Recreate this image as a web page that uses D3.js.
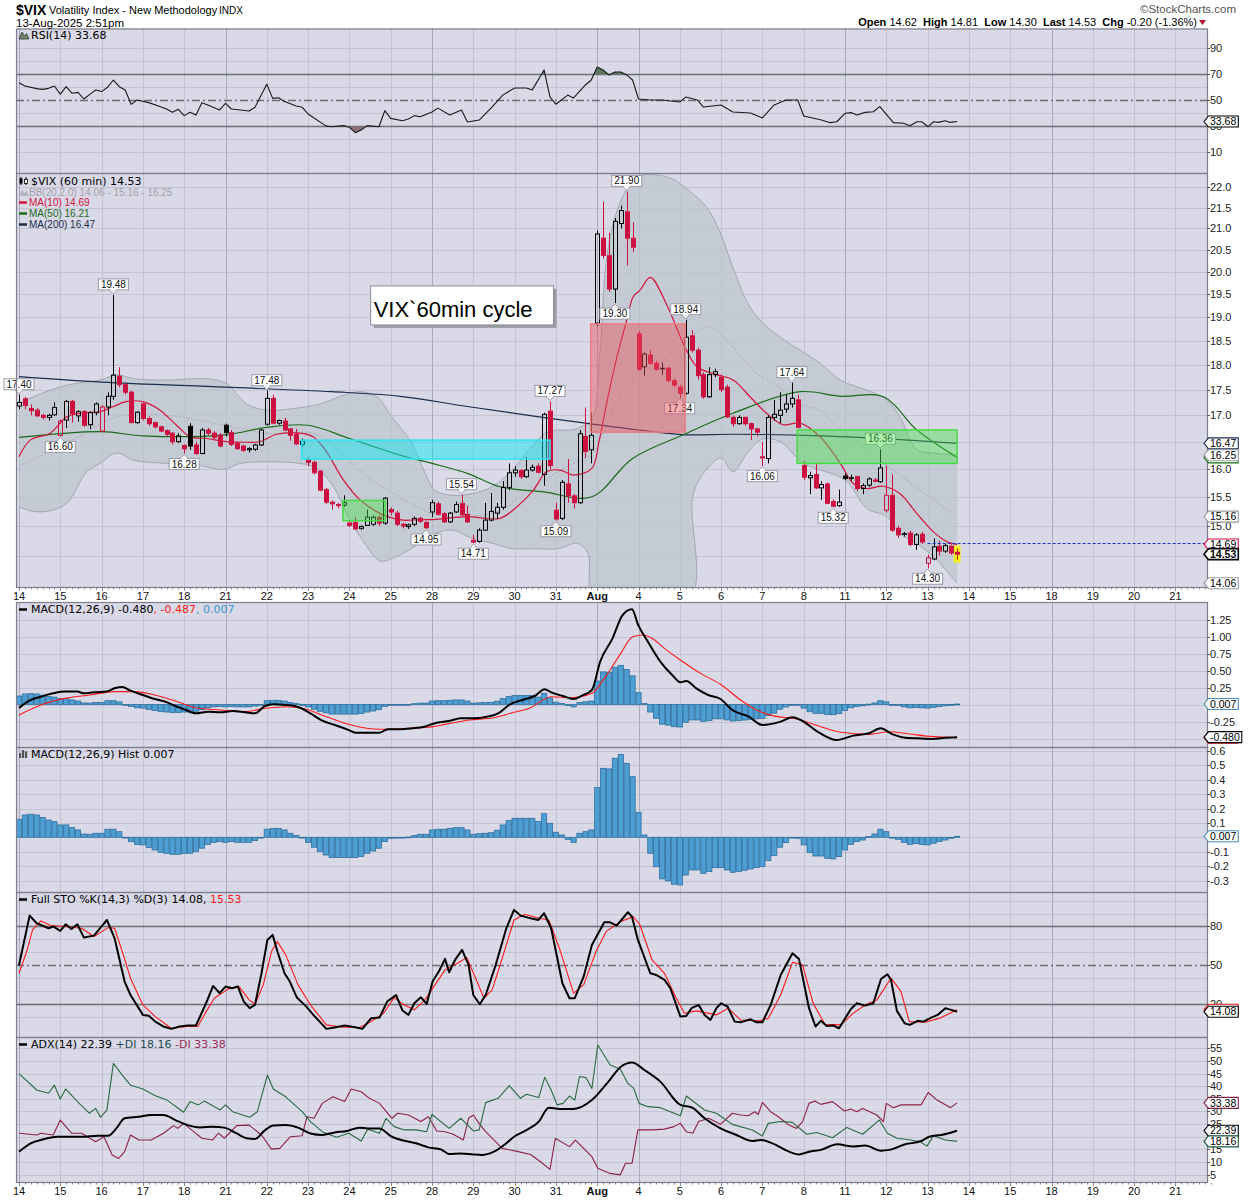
<!DOCTYPE html>
<html><head><meta charset="utf-8"><title>$VIX 60 min</title>
<script src="https://cdn.jsdelivr.net/npm/d3@7/dist/d3.min.js"></script>
<style>
html,body{margin:0;padding:0;background:#fff}
svg{display:block}
text{font-family:"Liberation Sans",Arial,sans-serif}
.lbl{font-family:"DejaVu Sans",Verdana,sans-serif;font-size:11px}
</style></head><body>
<svg id="chart" width="1250" height="1200"></svg>
<script>
// ---------------- DATA ----------------
const dayLabels=["14","15","16","17","18","21","22","23","24","25","28","29","30","31","Aug","4","5","6","7","8","11","12","13","14","15","18","19","20","21"];
const majorDays=[0,5,10,14,15,20,25];
const barsPerDay=7;

const candleOpen=[17.18,17.32,17.13,17.10,17.00,16.96,17.01,
16.62,16.91,17.27,16.99,17.07,16.82,17.05,
16.70,17.16,17.37,17.77,17.60,17.45,16.86,
17.22,16.94,16.86,16.78,16.71,16.66,16.50,
16.43,16.79,16.44,16.28,16.72,16.66,16.62,
16.81,16.67,16.47,16.42,16.35,16.36,16.44,
16.83,17.33,16.85,16.89,16.74,16.64,16.45,
16.17,16.12,15.96,15.63,15.41,15.37,15.36,
15.05,15.06,14.96,15.01,15.03,15.15,15.05,
15.28,15.22,15.03,14.99,15.03,15.13,15.06,
15.24,15.38,15.21,15.07,15.24,15.39,15.20,
14.76,14.74,14.93,15.10,15.22,15.32,15.67,
15.93,15.97,15.86,15.98,16.05,15.90,17.08,
15.27,15.13,15.73,15.52,15.40,16.60,16.35,
18.87,20.77,20.37,19.61,21.12,21.40,20.77,
18.64,17.96,18.20,18.03,17.92,17.93,17.68,
17.55,17.43,18.60,18.30,17.80,17.36,17.80,
17.75,17.55,16.96,16.84,16.96,16.84,16.74,
16.22,16.19,16.96,17.00,17.12,17.22,17.30,
16.06,15.84,15.90,15.66,15.73,15.42,15.35,
15.87,15.84,15.86,15.65,15.71,15.80,15.77,
15.27,15.53,14.96,14.87,14.88,14.69,14.86,
14.38,14.45,14.66,14.58,14.66,14.56];
const candleHigh=[17.40,17.36,17.21,17.14,17.03,17.03,17.25,
16.92,17.30,17.30,17.10,17.10,17.08,17.25,
17.20,17.45,19.48,17.95,17.62,17.48,17.08,
17.25,16.98,16.88,16.80,16.73,16.68,16.66,
16.45,16.85,16.50,16.76,16.76,16.70,16.66,
16.84,16.72,16.50,16.44,16.40,16.46,16.74,
17.48,17.40,16.92,16.95,16.76,16.74,16.56,
16.22,16.15,15.98,15.66,15.44,15.40,15.53,
15.10,15.15,15.01,15.28,15.18,15.18,15.50,
15.32,15.26,15.05,15.04,15.16,15.16,15.08,
15.45,15.42,15.24,15.24,15.42,15.54,15.35,
14.85,14.96,15.40,15.57,15.40,15.78,16.10,
16.05,16.00,16.22,16.08,16.10,17.05,17.27,
15.40,15.80,16.18,15.55,16.72,17.15,17.05,
20.95,21.65,20.90,21.25,21.55,21.90,21.15,
18.70,18.25,18.30,18.08,18.05,17.96,17.72,
17.60,18.94,18.72,18.35,17.85,17.95,17.92,
17.80,17.60,17.00,17.00,16.98,16.86,16.76,
16.49,17.00,17.30,17.45,17.40,17.64,17.40,
16.15,15.95,16.12,15.78,15.76,15.46,15.63,
15.92,15.90,15.88,15.74,15.85,15.84,16.36,
16.06,15.90,15.00,14.90,14.92,14.88,14.90,
14.52,14.79,14.75,14.70,14.69,14.62];
const candleLow=[17.12,17.12,17.00,16.97,16.92,16.90,16.99,
16.60,16.76,16.86,16.88,16.78,16.74,17.00,
16.68,17.00,17.30,17.55,17.40,16.85,16.84,
16.90,16.80,16.75,16.68,16.60,16.45,16.48,
16.28,16.35,16.26,16.27,16.62,16.55,16.40,
16.60,16.42,16.35,16.31,16.30,16.33,16.42,
16.80,16.83,16.82,16.70,16.52,16.44,16.40,
16.05,15.90,15.60,15.38,15.28,15.30,15.33,
14.98,14.93,14.93,15.00,15.00,15.00,15.02,
15.18,15.00,14.96,14.95,15.00,15.05,14.95,
15.15,15.18,15.05,15.05,15.22,15.17,15.05,
14.71,14.72,14.92,15.08,15.12,15.28,15.62,
15.86,15.82,15.84,15.95,15.92,15.70,16.00,
15.09,15.10,15.40,15.30,15.38,16.20,16.10,
18.80,20.30,19.55,19.30,21.00,20.14,20.45,
17.88,17.78,18.00,17.88,17.80,17.65,17.55,
17.34,17.40,18.25,17.70,17.32,17.34,17.75,
17.45,16.95,16.78,16.82,16.80,16.53,16.60,
16.06,16.10,16.90,16.85,17.05,17.15,16.75,
15.80,15.55,15.64,15.45,15.38,15.32,15.33,
15.80,15.78,15.60,15.55,15.68,15.76,15.75,
15.23,14.90,14.80,14.82,14.66,14.60,14.70,
14.30,14.43,14.50,14.55,14.52,14.44];
const candleClose=[17.25,17.19,17.09,16.99,16.96,17.00,17.15,
16.89,17.27,17.03,17.07,16.81,17.05,17.22,
17.16,17.37,17.79,17.60,17.45,16.86,17.06,
16.94,16.84,16.78,16.70,16.64,16.50,16.61,
16.37,16.42,16.28,16.72,16.66,16.58,16.42,
16.67,16.45,16.37,16.34,16.37,16.44,16.72,
17.33,16.85,16.90,16.72,16.62,16.46,16.51,
16.12,15.93,15.62,15.41,15.38,15.35,15.40,
15.01,14.95,14.99,15.15,15.15,15.05,15.48,
15.24,15.03,15.00,15.02,15.13,15.08,14.97,
15.40,15.20,15.07,15.22,15.37,15.19,15.07,
14.73,14.93,15.10,15.25,15.32,15.67,15.93,
15.98,15.86,15.98,16.03,15.94,17.02,16.06,
15.12,15.76,15.52,15.40,16.65,16.32,16.62,
20.87,20.37,19.61,21.17,21.43,20.77,20.56,
17.91,18.22,18.03,17.91,17.93,17.68,17.59,
17.43,18.57,18.30,17.78,17.36,17.80,17.86,
17.50,16.97,16.84,16.96,16.84,16.74,16.68,
16.20,16.96,17.02,17.10,17.22,17.33,16.77,
15.85,15.88,15.66,15.72,15.39,15.34,15.41,
15.83,15.84,15.65,15.70,15.82,15.78,16.02,
15.53,14.93,14.85,14.86,14.69,14.85,14.73,
14.47,14.65,14.58,14.67,14.55,14.53];

// overlays on price panel: [bar, value]
const ma10Pts=[[0,16.22],[1.9,16.53],[5.3,16.66],[8.1,16.97],[10.9,17.05],[13.7,17.07],[16,17.17],[18.3,17.27],[21.1,17.26],[23.9,17.10],[26.7,16.81],[29,16.59],[31.8,16.56],[35.2,16.50],[38.6,16.49],[40.8,16.50],[43.7,16.64],[47.6,16.66],[49.9,16.59],[51.9,16.35],[55,15.80],[57.8,15.45],[61.7,15.19],[65.1,15.10],[68,15.11],[70.2,15.11],[75.9,15.16],[81.5,15.13],[84.4,15.33],[87.2,15.62],[89.4,15.95],[91.7,15.98],[94,15.89],[97.1,16.01],[98.3,16.5],[99.6,17.23],[101.3,18.14],[103,18.93],[104.1,19.44],[105.3,19.59],[107,19.87],[109.8,19.26],[112.6,18.44],[114.9,17.96],[118.3,17.80],[121.1,17.69],[123.9,17.36],[126.7,17.04],[129.5,16.82],[132.4,16.85],[135.8,16.59],[139.2,16.10],[141.4,15.74],[143.7,15.65],[146.5,15.69],[149.3,15.56],[152.2,15.21],[155,14.90],[157.2,14.74],[159,14.69]];
const ma50Pts=[[0,16.58],[14,16.69],[21,16.61],[35,16.63],[42,16.77],[49,16.81],[56,16.56],[64.6,16.25],[70,16.10],[76,15.92],[81.5,15.68],[89,15.59],[97,15.50],[104,16.19],[112.6,16.63],[121,17.04],[132.4,17.46],[139.2,17.37],[146.5,17.36],[152.2,16.72],[159,16.21]];
const ma200Pts=[[0,17.76],[14,17.65],[35,17.55],[53,17.46],[64.6,17.37],[76,17.17],[90,16.94],[105,16.72],[113,16.63],[121,16.64],[136,16.61],[146,16.56],[159,16.47]];
const bbUpperPts=[[0,17.22],[2.4,17.36],[8.1,17.59],[13.7,17.69],[16.6,17.80],[19.4,17.72],[25,17.69],[31.8,17.72],[35.2,17.62],[38.6,17.22],[42,17.10],[46.5,17.13],[51,17.22],[55.5,17.41],[57.8,17.46],[60.6,17.37],[63.2,16.97],[66.6,16.47],[68.8,15.93],[70.5,15.62],[73.4,15.53],[76.8,15.56],[80.2,15.68],[83.6,15.98],[86.9,16.41],[89.2,16.66],[91.4,16.72],[93.7,16.72],[95.4,16.79],[97.1,16.91],[98.5,18.3],[99.6,20.3],[101.3,21.4],[103.6,22.1],[105.3,22.3],[108.6,22.3],[110.9,22.2],[113.7,21.9],[116.6,21.5],[118.8,20.92],[121.1,20.06],[123.9,19.21],[126.7,18.8],[129.5,18.53],[132.4,18.3],[135.8,18.03],[139.2,17.69],[143.7,17.49],[147.1,17.30],[149.3,16.97],[152.2,16.35],[155,16.29],[159,16.25]];
const bbLowerPts=[[0,15.33],[2.4,15.25],[5.3,15.26],[8.1,15.39],[11.5,15.95],[13.7,16.10],[16.6,16.29],[19.4,16.16],[25,16.10],[30.7,16.06],[34.6,15.99],[37.5,16.10],[42,16.13],[47.6,16.10],[50.5,16.01],[53.3,15.68],[56.1,15.10],[59,14.65],[61.2,14.42],[64,14.49],[67,14.65],[70,14.85],[73.4,14.93],[76.8,14.79],[80.2,14.71],[83.6,14.62],[87,14.62],[91.4,14.62],[94.6,14.71],[96.4,14.55],[97.6,13.8],[113.6,13.8],[114.3,15.56],[117.1,16.06],[119,16.2],[121,15.95],[123.5,16.3],[126,16.55],[129,16.5],[133,16.10],[140,15.80],[143.7,15.30],[147.1,15.16],[149.3,14.87],[152.2,14.70],[155,14.49],[159,14.06]];
const bbMidPts=[[0,16.05],[8.1,16.47],[16.6,16.97],[25,17.00],[33.5,16.84],[42,16.66],[50.5,16.63],[59,15.86],[67.4,15.33],[70.2,15.21],[75.9,15.16],[81.5,15.27],[87.2,15.68],[92.8,16.04],[97.3,16.29],[99.6,16.84],[103,17.62],[105.3,17.82],[109.8,18.14],[113.2,18.49],[116.8,18.80],[121.1,18.35],[124.5,17.88],[129.5,17.49],[132.4,17.22],[135.8,17.10],[138.5,16.79],[143.7,16.35],[149.3,15.89],[155,15.45],[159,15.16]];

// callouts: [bar, value, above?]
const callouts=[[0,17.40,1],[7,16.60,0],[16,19.48,1],[28,16.28,0],[42,17.48,1],[69,14.95,0],[75,15.54,1],[77,14.71,0],[90,17.27,1],[91,15.09,0],[103,21.90,1],[101,19.30,0],[113,18.94,1],[112,17.34,0],[131,17.64,1],[126,16.06,0],[138,15.32,0],[146,16.36,1],[154,14.30,0]];
// annotation rectangles: [barFrom, barTo, priceLow, priceHigh, kind]
const zones=[[47.9,90,16.18,16.53,"cyan"],[54.9,62.1,15.09,15.44,"green"],[96.9,112.9,16.68,18.85,"red"],[131.9,159,16.10,16.72,"green"]];
const noteBox=[59.6,90.6,18.83,19.68,"VIX`60min cycle"];
const dashedLevel=[154,14.71];

// RSI
const rsiPts=[[0,63.5],[1,61],[3,59],[4,58.4],[5,59.2],[6,61],[7,54.8],[8,60.5],[9,55.4],[10,56.1],[11,51],[12,54.6],[13,57.9],[14,56.7],[15,60],[16,65.6],[17,60.5],[18,57.9],[19,46.9],[20,50.2],[22,48.2],[24,45.1],[25,43.3],[26,40.8],[27,43.1],[28,38.2],[29,40.8],[30,38.7],[31,48.2],[32,46.4],[34,42.6],[35,47.7],[36,43.3],[39,41.8],[40,44.6],[42,62.3],[43,51.5],[44,52],[45,49],[47,45.6],[48,44.6],[49,39.5],[52,30.3],[53,29.7],[55,30.5],[56,29.2],[57,25.1],[58,27.1],[59,30.5],[61,29.7],[62,42],[63,36.1],[65,34.3],[66,35.6],[67,38.2],[68,37.4],[70,41],[71,44],[73,38.7],[75,42.5],[76,33.3],[78,34.8],[80,44],[82,54],[84,59.5],[86,59.5],[87,58],[89,73.3],[90,52.5],[91,47],[93,54],[94,51.8],[96,61.8],[97,65.6],[98,75.6],[99,73.3],[100,69.5],[101,71.8],[102,71.8],[103,69.5],[104,65.6],[105,51],[107,50.2],[109,50.2],[112,48.7],[113,52.5],[115,50.2],[116,44.8],[119,46.4],[121,41],[124,40.2],[126,36.4],[128,46.4],[130,50.2],[132,50.2],[133,37.9],[136,34.8],[137.5,32.8],[138.6,33.5],[140,40],[141.1,40.5],[142,38.7],[143.4,40.7],[144.8,41.2],[145.9,45.1],[148.2,32.8],[149.9,32.3],[151,30.5],[152.2,33.5],[153,33.5],[154.1,29.7],[155,33.5],[155.8,33],[157,34.3],[157.8,33],[159,33.68]];

// MACD
const macdPts=[[0,-0.05],[1.6,0.05],[3.7,0.115],[5.8,0.164],[7.8,0.19],[9.9,0.19],[11,0.164],[12.7,0.18],[14.8,0.19],[16.2,0.238],[17.5,0.257],[18.9,0.203],[21,0.14],[23,0.081],[25.1,0.032],[26.5,-0.022],[27.9,-0.066],[30,-0.13],[32.1,-0.105],[34.1,-0.115],[36.2,-0.096],[38.3,-0.115],[40,-0.13],[41.7,-0.022],[43.1,0.002],[45.2,-0.007],[47.3,-0.037],[49.4,-0.13],[51.4,-0.238],[53.5,-0.301],[55.6,-0.365],[57,-0.414],[59,-0.414],[61.1,-0.414],[62.5,-0.365],[64.6,-0.365],[66.7,-0.35],[68.7,-0.326],[70.8,-0.267],[72.9,-0.243],[74.9,-0.203],[77,-0.203],[79.1,-0.184],[81.2,-0.13],[83.3,0.007],[85.3,0.066],[87.4,0.125],[89.1,0.223],[90.2,0.179],[92.2,0.125],[94,0.081],[95.4,0.13],[97.1,0.213],[98.5,0.63],[100.6,0.973],[102.3,1.316],[103.9,1.40],[104.9,1.179],[106.6,0.924],[108.7,0.63],[110.7,0.434],[112.1,0.326],[113.1,0.346],[114.8,0.238],[116.8,0.14],[118.9,0.081],[120.9,-0.081],[123.7,-0.179],[126,-0.301],[129.1,-0.252],[131.1,-0.189],[132.5,-0.228],[135.2,-0.39],[138.6,-0.522],[141.4,-0.458],[144.1,-0.424],[146,-0.35],[148.1,-0.439],[150.2,-0.488],[152.3,-0.498],[155,-0.507],[157,-0.488],[159,-0.48]];
const signalPts=[[0,-0.154],[3.7,-0.007],[7.8,0.09],[12,0.14],[16.2,0.19],[19.6,0.19],[23,0.14],[26.5,0.051],[30,-0.047],[34.1,-0.081],[38.3,-0.105],[41.7,-0.056],[45.2,-0.032],[48,-0.056],[52.1,-0.179],[56.3,-0.301],[61.1,-0.365],[66,-0.35],[70.1,-0.326],[72.2,-0.292],[76.3,-0.228],[80.5,-0.194],[83.3,-0.13],[86.7,-0.047],[90.2,0.115],[93.6,0.10],[97.1,0.164],[99.2,0.385],[102,0.752],[104,0.997],[105.6,1.022],[107.3,0.973],[109.4,0.826],[112.1,0.654],[115.5,0.458],[118.9,0.297],[122.3,0.066],[125,-0.081],[127.7,-0.164],[131.8,-0.213],[135.9,-0.326],[139.3,-0.409],[144.1,-0.439],[147.5,-0.40],[150.9,-0.434],[155,-0.473],[159,-0.487]];
const histVals=[0.125,0.155,0.160,0.155,0.137,0.120,0.109,
0.086,0.086,0.067,0.051,0.023,0.021,0.028,
0.028,0.056,0.056,0.039,-0.002,-0.030,-0.049,
-0.053,-0.072,-0.088,-0.104,-0.111,-0.118,-0.118,
-0.111,-0.111,-0.100,-0.076,-0.049,-0.035,-0.030,
-0.035,-0.030,-0.035,-0.035,-0.035,-0.023,-0.002,
0.056,0.062,0.062,0.051,0.028,0.012,-0.002,
-0.035,-0.069,-0.100,-0.123,-0.141,-0.141,-0.141,
-0.141,-0.141,-0.134,-0.111,-0.095,-0.076,-0.030,
-0.007,0.000,0.000,0.002,0.012,0.021,0.021,
0.051,0.056,0.056,0.062,0.067,0.067,0.051,
0.021,0.025,0.028,0.032,0.049,0.086,0.116,
0.132,0.132,0.132,0.132,0.109,0.164,0.097,
0.035,0.016,-0.014,-0.035,0.028,0.039,0.051,
0.345,0.479,0.475,0.549,0.576,0.514,0.421,
0.174,0.016,-0.111,-0.204,-0.289,-0.303,-0.326,
-0.331,-0.262,-0.227,-0.227,-0.250,-0.238,-0.211,
-0.211,-0.227,-0.243,-0.238,-0.229,-0.220,-0.211,
-0.204,-0.162,-0.127,-0.069,-0.037,0.000,-0.007,
-0.053,-0.106,-0.130,-0.130,-0.146,-0.150,-0.134,
-0.088,-0.049,-0.030,-0.019,0.005,0.023,0.056,
0.039,0.000,-0.014,-0.035,-0.049,-0.044,-0.049,
-0.053,-0.042,-0.030,-0.019,-0.007,0.007];

// Full STO
const stoKPts=[[0,50],[1.8,88.4],[3,82.5],[5,78.6],[5.8,80],[7,76.5],[7.9,81.7],[8.9,78],[9.9,81.7],[11,71.4],[12.7,72.9],[14.1,80.7],[14.9,85],[16.2,70.9],[17.9,37.4],[18.9,27],[21,11.6],[22,11],[23.1,6.4],[24.5,2.6],[25.8,0.8],[27.2,2.6],[28.6,3.4],[30,3.4],[31.7,20.6],[32.9,34],[34,28.4],[35,33.5],[36.1,32.2],[37.1,33.5],[38.1,21.9],[39.1,16.8],[40,19.3],[41.1,43.8],[42.1,69.6],[43,73.5],[43.8,60.6],[45,43.8],[45.9,37.4],[47.1,25],[48.7,18],[50,11],[52.1,0.8],[53.5,1.8],[55.2,3.4],[57,2.1],[58.2,0.8],[59.7,9],[61.1,9.5],[62.4,21.9],[63.9,27],[65,15],[66,11.6],[67,20.6],[68.1,25.3],[69.1,20.1],[70.1,37.4],[71.2,45.6],[72.2,54.9],[72.9,44.6],[73.9,54.1],[75.1,61.9],[76.2,50.3],[77,27],[78.1,19.8],[79.1,27],[80.8,50.3],[82.6,78.6],[83.9,92.8],[85,88.4],[86.7,86.3],[88,85],[89,90.2],[90.2,78.6],[92.1,36.1],[93.3,24.5],[94.2,24.5],[95.7,41.2],[97.1,65.7],[99.2,83.2],[100.2,83.2],[101.3,80.7],[103.2,91],[103.9,87.6],[104.9,69.6],[107,43.8],[108,42.5],[109.4,38.7],[110.4,32.2],[112.1,10.3],[113.1,10.8],[114,16.8],[115.2,19.3],[116.2,11.6],[117.2,7.7],[118.2,16.8],[119,20.6],[120.1,18],[121.3,6.4],[122.3,5.9],[124,8.2],[125,5.9],[126,5.9],[127.4,19.3],[129.1,42.5],[131.1,59.3],[132.2,54.9],[133.9,16.8],[135,2.6],[135.9,7],[136.9,3.1],[138,3.4],[139,1.3],[141,16.2],[142,20.6],[143.4,18.8],[144.8,20.6],[146.1,39.4],[147.2,43],[147.8,38.7],[148.8,14.7],[150.1,5.2],[151,3.9],[152.3,7],[153.3,6.4],[154.6,9.5],[155.7,11.6],[157,16.8],[158,15.5],[159,14.08]];
const stoDPts=[[0,43.8],[1.3,60.6],[2.3,77.3],[3.7,84.3],[5.4,80.7],[7.8,80],[10.6,78.6],[12.7,72.2],[15.1,79.1],[16.2,78.6],[17.5,60.6],[18.9,40],[21,19.3],[23.1,10.3],[25.8,1.3],[28.6,2.6],[30.3,2.6],[31.4,11.6],[33.1,24.5],[35.5,31.7],[37.3,33.5],[39,23.2],[40,19.8],[41.4,34.8],[42.8,60.6],[43.8,68.3],[45.2,58],[47.3,34.8],[49.4,19.3],[52.1,3.9],[54.9,2.1],[57.7,1.8],[59.7,6.4],[61.8,12.9],[63.6,25],[65.3,19.3],[67,15.5],[68.8,23.2],[70.5,34.8],[72.2,46.4],[74.3,51.5],[75.9,55.9],[77.4,40],[78.8,24.5],[80.2,30.9],[81.9,55.4],[83.9,85],[85.7,89.4],[88.1,86.3],[89.8,85],[91.6,63.1],[94,28.4],[95.7,34.8],[97.8,60.6],[99.5,76],[102,83.8],[104.1,87.6],[105.2,81.7],[107.3,54.1],[109.4,43.8],[111.4,24.5],[112.8,12.9],[114.8,14.7],[118.2,11.6],[120.2,16.8],[122.3,7.7],[125.6,7],[127,9],[129.1,27],[131.1,52.3],[132.8,50.3],[134.6,20.6],[136.6,4.4],[139.3,3.9],[141.4,12.9],[143.4,19.3],[145.4,23.2],[147.8,40],[149.5,29.6],[150.9,6.4],[153.6,5.9],[156.3,9.5],[159,15.53]];

// ADX
const adxPts=[[0,14.1],[2,17.4],[3.7,18.7],[6.5,20],[10.6,20],[13.4,20.4],[15.1,20.4],[16.5,23.3],[17.9,27.3],[20.3,27.9],[22.4,28.6],[24.5,28.6],[26.5,26.6],[28.6,24.6],[30.7,23.7],[32.8,24],[34.8,23.6],[36.9,21.3],[38.6,19.4],[40,19.1],[41.7,22.6],[43.1,24.4],[45.2,24.6],[47.3,23.6],[49.4,21.3],[51.4,20.7],[53.5,21.7],[55.6,22.3],[57.7,23.6],[59.1,23.3],[61.1,23.3],[63.2,20],[65.3,18.4],[67.3,17.4],[69.4,15.8],[71.5,15],[72.9,13.2],[74.9,13.4],[77,13],[78.4,12.8],[80.5,14.1],[82.6,17.4],[83.9,20],[86,22.6],[88.1,26],[89.8,31.5],[91.6,31],[94,31],[97.1,34.5],[99.9,41.8],[102,47.7],[103.9,49.4],[106,46.4],[108.7,41.8],[112.1,32.6],[114.1,31.5],[116.2,27.3],[118.9,23.3],[121.6,20.7],[124.3,18.3],[125.7,18.7],[127.7,17.4],[130.5,14.1],[132.2,13],[133.9,14.1],[135.9,14.8],[138.7,17],[141.4,16.1],[143.4,16.5],[146.1,14.5],[147.5,14.8],[150.2,17],[152.9,18.3],[154.3,20],[156.3,20.7],[159,22.39]];
const plusDIPts=[[0,45],[3,38.5],[5,37.2],[6,40.4],[7,34.9],[7.9,38.9],[9.9,33.9],[11.9,29.3],[13,31.2],[13.8,27.7],[14.9,30.6],[16,49],[17.5,44.4],[18.9,40.4],[21,38.9],[23.1,36.2],[25.1,34.5],[27.9,29.7],[29,33.9],[30.4,32.6],[31.4,34.1],[34.1,30.6],[35,32.6],[36.2,29.9],[39.1,27.7],[40.4,29.9],[42.1,44.4],[43.1,38.9],[45.2,35.8],[48,29.9],[49.4,26],[51.4,22],[53.8,19.8],[55.9,21.4],[58,18.3],[59.1,23],[61.1,21.4],[62.2,27.3],[63.6,24],[65.3,22.7],[67.3,22.7],[69.1,22],[70,28.8],[72.9,23.3],[74.9,27.3],[77,22.3],[78,22.7],[79.1,33.5],[81.2,35.2],[83.1,40.2],[85,35.2],[86,36.8],[88.1,35.5],[89.1,43.5],[90.2,38.5],[91.2,32.6],[92.2,33.2],[93.3,36.1],[94.2,34.5],[95,43.8],[96.1,43.4],[97.1,39.1],[98.1,56.3],[100.2,48.4],[101.9,46.8],[103.2,41.1],[104.2,39.1],[105.1,33.2],[106.6,31.9],[108.7,31.5],[112.1,28.3],[113.1,36.1],[116.2,30.6],[118.2,29.3],[120.9,24.9],[124.3,22.7],[126,20.3],[127,25.3],[129.1,26],[131.1,25.7],[133.5,21],[135.2,21.7],[137.9,19.6],[140.3,23.7],[143,21],[145.8,26.6],[147.2,21.4],[148.8,19.4],[151.2,18.7],[152.9,17.8],[153.9,16.3],[155,20.4],[157,18.7],[159,18.16]];
const minusDIPts=[[0,21.4],[3,20.7],[3.7,21.4],[5.8,20.7],[7,26.6],[8.9,21.4],[10.6,21.4],[13,18],[14.4,20],[15.8,12.8],[16.9,11.4],[17.9,14.1],[18.9,20.7],[20.3,18.7],[22.4,18.7],[24.5,21.4],[26.2,24.4],[26.9,23.3],[27.9,25.3],[29.6,22],[31,19.4],[32.8,18.7],[33.8,21.4],[34.8,19.4],[36.9,24.4],[39,24.6],[41.1,20.7],[42.8,15.1],[44.2,15.4],[46,20],[48,20.4],[48.8,27.9],[50,27.3],[51.4,33.2],[53.2,35.8],[55.2,33.9],[56.3,38.9],[58,37.8],[59.4,35.2],[61.1,33.2],[63.2,27.3],[64.2,29.3],[66,28.6],[68.1,26],[69.4,27.9],[70.8,22.3],[72.2,22],[73.6,21],[75.3,18.7],[76.2,27.3],[77,28.6],[78.1,24.9],[79.1,22],[81.9,15.4],[84.6,14.1],[86.7,13],[88.4,10.1],[90,7.1],[90.9,19.4],[93.3,16.1],[94.3,18.7],[97.1,12.1],[98.1,7.5],[100.2,5.5],[101.9,4.9],[102.8,9.5],[103.9,9.5],[104.9,22.7],[107.3,22.7],[109.4,23],[111,24],[112.1,25.3],[113.1,22],[114.2,21.4],[115.2,26],[116.9,27.3],[118.9,24.9],[120.9,29.3],[122.3,28.6],[123.6,28.3],[124.7,29.9],[125.3,28.8],[126,33.6],[127.4,29.9],[128.7,27.9],[130.5,24.6],[131.8,23.3],[132.8,26],[133.9,33.2],[134.9,34.1],[135.9,32.8],[137.9,33.9],[139.9,30.2],[141,31],[142,29.9],[143,31.2],[145.4,28.6],[146.5,26],[147,33.2],[148.2,31.5],[149.5,32.6],[152.9,32.6],[154.1,37.5],[155.6,34.5],[157.9,31.5],[159,33.38]];

// grid levels and axis labels
const rsiGrid=[10,20,40,60,80,90];
const rsiTicks=[90,70,50,30,10];
const priceGrid=[14.5,15.0,15.5,16.0,16.5,17.0,17.5,18.0,18.5,19.0,19.5,20.0,20.5,21.0,21.5,22.0];
const priceTicks=[15.0,15.5,16.0,17.0,17.5,18.0,18.5,19.0,19.5,20.0,20.5,21.0,21.5,22.0];
const macdGrid=[-0.5,-0.25,0,0.25,0.5,0.75,1.0,1.25];
const macdTicks=[-0.25,0.25,0.5,0.75,1.0,1.25];
const histGrid=[-0.3,-0.2,-0.1,0,0.1,0.2,0.3,0.4,0.5,0.6];
const histTicks=[-0.3,-0.2,-0.1,0.1,0.2,0.3,0.4,0.5,0.6];
const stoGrid=[10,30,40,60,70,90,100];
const stoTicks=[20,50,80];
const adxGrid=[5,10,15,20,25,30,35,40,45,50,55];
const adxTicks=[5,10,15,25,30,35,40,45,50,55];

// last-value tags: [value, text, kind]  (text "" = tag hidden under another one)
const rsiTags=[[33.68,"33.68","black"]];
const priceTags=[[16.21,"","ma50"],[16.47,"16.47","ma200"],[16.25,"16.25","bb"],[15.16,"15.16","bb"],[14.69,"14.69","ma10"],[14.53,"14.53","last"],[14.06,"14.06","bb"]];
const macdTags=[[-0.487,"","red"],[-0.480,"-0.480","black"],[0.007,"0.007","hist"]];
const histTags=[[0.007,"0.007","hist"]];
const stoTags=[[15.53,"","red"],[14.08,"14.08","black"]];
const adxTags=[[33.38,"33.38","mdi"],[22.39,"22.39","black"],[18.16,"18.16","pdi"]];

// ---------------- DRAWING ----------------
const svg=d3.select("#chart");
const L=16,R=1207;
const BG="#d9d9e7", GRID="#c4c4d4", GRIDMAJ="#aaaabd", BORDER="#7e7e8e";
const RED="#cc1140";
const TAGC={black:"#000",red:"#e01010",hist:"#4f8fb8",ma50:"#117011",ma200:"#1a2a55",bb:"#9a9aa6",ma10:"#d01040",last:"#000",mdi:"#8b1e45",pdi:"#1f5a3a"};
const x=d3.scaleLinear().domain([0,196]).range([19,19+5.9*196]);
const P={rsi:[28.5,173],price:[173,587],macd:[602,747],hist:[747,892],sto:[892,1037],adx:[1037,1182]};
const yR=d3.scaleLinear().domain([0,100]).range([165.3,35.3]);
const yP=d3.scaleLog().domain([14,22.36]).range([587,173]);
const yM=d3.scaleLinear().domain([0,1]).range([704.5,636.5]);
const yH=d3.scaleLinear().domain([0,0.1]).range([837.3,822.9]);
const yS=d3.scaleLinear().domain([0,100]).range([1029.9,900.6]);
const yA=d3.scaleLinear().domain([0,50]).range([1187.3,1060.9]);
const cr=v=>Math.round(v)+0.5;

const defs=svg.append("defs");
Object.entries(P).forEach(([k,[t,b]])=>{
  defs.append("clipPath").attr("id","cl-"+k).append("rect").attr("x",L).attr("y",t).attr("width",R-L).attr("height",b-t);
});
svg.append("rect").attr("width",1250).attr("height",1200).attr("fill","#fff");

// backgrounds + grids
const dayIdx=d3.range(dayLabels.length);
function panelBase(key,scale,gridVals,special){
  const [t,b]=P[key];
  const g=svg.append("g");
  g.append("rect").attr("x",L).attr("y",t).attr("width",R-L).attr("height",b-t).attr("fill",BG);
  g.selectAll("line.h").data(gridVals).join("line").attr("class","h")
    .attr("x1",L).attr("x2",R).attr("y1",d=>cr(scale(d))).attr("y2",d=>cr(scale(d)))
    .attr("stroke",GRID).attr("stroke-width",1);
  g.selectAll("line.v").data(dayIdx.filter(d=>x(d*barsPerDay)<R)).join("line").attr("class","v")
    .attr("x1",d=>cr(x(d*barsPerDay))).attr("x2",d=>cr(x(d*barsPerDay))).attr("y1",t).attr("y2",b)
    .attr("stroke",d=>majorDays.includes(d)?GRIDMAJ:GRID).attr("stroke-width",1);
  (special||[]).forEach(([v,dash])=>{
    g.append("line").attr("x1",L).attr("x2",R).attr("y1",cr(scale(v))).attr("y2",cr(scale(v)))
      .attr("stroke","#6f6f78").attr("stroke-width",1.3).attr("stroke-dasharray",dash||null);
  });
}
panelBase("rsi",yR,rsiGrid,[[70],[30],[50,"8,3,2,3"]]);
panelBase("price",yP,priceGrid);
panelBase("macd",yM,macdGrid);
panelBase("hist",yH,histGrid);
panelBase("sto",yS,stoGrid,[[80],[20],[50,"8,3,2,3"]]);
panelBase("adx",yA,adxGrid);

const line=(sc,curve)=>d3.line().x(d=>x(d[0])).y(d=>sc(d[1])).curve(curve||d3.curveLinear);
function drawLine(key,sc,pts,color,w,curve,dash){
  svg.append("path").attr("clip-path",`url(#cl-${key})`).attr("d",line(sc,curve)(pts))
    .attr("fill","none").attr("stroke",color).attr("stroke-width",w).attr("stroke-linejoin","round").attr("stroke-dasharray",dash||null);
}

// ---- RSI ----
const rsiArea=(base)=>d3.area().x(d=>x(d[0])).y0(yR(base)).y1(d=>yR(d[1]));
defs.append("clipPath").attr("id","rsiLow").append("rect").attr("x",L).attr("y",yR(30)).attr("width",R-L).attr("height",P.rsi[1]-yR(30));
defs.append("clipPath").attr("id","rsiHigh").append("rect").attr("x",L).attr("y",P.rsi[0]).attr("width",R-L).attr("height",yR(70)-P.rsi[0]);
svg.append("path").attr("d",rsiArea(30)(rsiPts)).attr("clip-path","url(#rsiLow)").attr("fill","#8d6f7c");
svg.append("path").attr("d",rsiArea(70)(rsiPts)).attr("clip-path","url(#rsiHigh)").attr("fill","#5d7a5e");
drawLine("rsi",yR,rsiPts,"#1a1a1a",1.1);

// ---- PRICE ----
const gp=svg.append("g").attr("clip-path","url(#cl-price)");
const bandLine=d3.line().x(d=>x(d[0])).y(d=>yP(d[1])).curve(d3.curveCatmullRom.alpha(0.5));
const bandPath=bandLine(bbUpperPts)+"L"+bandLine(bbLowerPts.slice().reverse()).slice(1)+"Z";
gp.append("path").attr("d",bandPath).attr("fill","#bcc5ce").attr("fill-opacity",0.75);
gp.append("path").attr("d",bandLine(bbUpperPts)).attr("fill","none").attr("stroke","#a3a8b2").attr("stroke-width",1);
gp.append("path").attr("d",bandLine(bbLowerPts)).attr("fill","none").attr("stroke","#a3a8b2").attr("stroke-width",1);
gp.append("path").attr("d",bandLine(bbMidPts)).attr("fill","none").attr("stroke","#a6a9b6").attr("stroke-width",1).attr("stroke-dasharray","2,2");
const smooth=d3.curveCatmullRom.alpha(0.5);
gp.append("path").attr("d",line(yP,smooth)(ma200Pts)).attr("fill","none").attr("stroke","#1c2e4e").attr("stroke-width",1.2);
gp.append("path").attr("d",line(yP,smooth)(ma50Pts)).attr("fill","none").attr("stroke","#1a6a1a").attr("stroke-width",1.2);
gp.append("path").attr("d",line(yP,smooth)(ma10Pts)).attr("fill","none").attr("stroke","#d4143c").attr("stroke-width",1.2);

// yellow highlight of the live bar
const lastI=candleClose.length-1;
gp.append("rect").attr("x",x(lastI)-3.5).attr("y",yP(candleHigh[lastI])-3).attr("width",7)
  .attr("height",yP(candleLow[lastI])-yP(candleHigh[lastI])+6).attr("fill","#f4f020");

// candles
candleOpen.forEach((o,i)=>{
  const c=candleClose[i],h=candleHigh[i],l=candleLow[i];
  const hollow=c>=o;
  const col=(i>0&&c<candleClose[i-1])?RED:"#000";
  const cx=cr(x(i));
  const top=yP(Math.max(o,c)),bot=yP(Math.min(o,c));
  gp.append("line").attr("x1",cx).attr("x2",cx).attr("y1",yP(h)).attr("y2",top).attr("stroke",col);
  gp.append("line").attr("x1",cx).attr("x2",cx).attr("y1",bot).attr("y2",yP(l)).attr("stroke",col);
  gp.append("rect").attr("x",cx-2).attr("y",top).attr("width",4).attr("height",Math.max(bot-top,0.6))
    .attr("fill",hollow?"none":col).attr("stroke",col).attr("stroke-width",1);
});

// callouts (not clipped: the first one sticks out on the left)
const gcall=svg.append("g");
callouts.forEach(([b,v,above])=>{
  const cx=x(b), yv=yP(v);
  const g=gcall.append("g");
  const t=g.append("text").text(v.toFixed(2)).attr("font-size",10).attr("text-anchor","middle").attr("fill","#111");
  const w=t.node().getComputedTextLength()+5, h=11;
  let by, tri;
  if(above){by=yv-5-h; tri=`M${cx-4},${yv-5}L${cx+4},${yv-5}L${cx},${yv-1}Z`;}
  else{by=yv+5; tri=`M${cx-4},${yv+5}L${cx+4},${yv+5}L${cx},${yv+1}Z`;}
  g.insert("rect","text").attr("x",cx-w/2).attr("y",by).attr("width",w).attr("height",h).attr("fill","#fff").attr("stroke","#9a9aa8");
  g.insert("path","text").attr("d",tri).attr("fill","#fff").attr("stroke","#9a9aa8");
  g.insert("rect","text").attr("x",cx-3).attr("y",above?by+h-1:by-0.5).attr("width",6).attr("height",1.5).attr("fill","#fff");
  t.attr("x",cx).attr("y",by+h-2);
});

// zones (drawn over candles and callouts)
const gz=svg.append("g").attr("clip-path","url(#cl-price)");
const ZS={cyan:{f:"rgba(0,232,245,0.45)",s:"#2ee6f2"},green:{f:"rgba(70,225,70,0.42)",s:"#45dd45"},red:{f:"rgba(236,80,88,0.45)",s:"#ee7a7e"}};
zones.forEach(([b0,b1,p0,p1,k])=>{
  gz.append("rect").attr("x",x(b0)).attr("y",yP(p1)).attr("width",x(b1)-x(b0)).attr("height",yP(p0)-yP(p1))
    .attr("fill",ZS[k].f).attr("stroke",ZS[k].s).attr("stroke-width",1.5);
});
// note box
{
  const [b0,b1,p0,p1,txt]=noteBox;
  const X0=x(b0),X1=x(b1),Y0=yP(p1),Y1=yP(p0);
  gz.append("rect").attr("x",X0+3).attr("y",Y0+3).attr("width",X1-X0).attr("height",Y1-Y0).attr("fill","#9c9ca6");
  gz.append("rect").attr("x",X0).attr("y",Y0).attr("width",X1-X0).attr("height",Y1-Y0).attr("fill","#fff").attr("stroke","#8c8c96");
  gz.append("text").attr("x",X0+3).attr("y",Y1-8).attr("font-size",22).attr("fill","#000").text(txt);
}
// dashed level
gz.append("line").attr("x1",x(dashedLevel[0])).attr("x2",R).attr("y1",cr(yP(dashedLevel[1]))).attr("y2",cr(yP(dashedLevel[1])))
  .attr("stroke","#2030d0").attr("stroke-dasharray","3,2").attr("stroke-width",1);

// ---- MACD ----
function histBars(key,sc){
  svg.append("g").attr("clip-path",`url(#cl-${key})`).selectAll("rect").data(histVals).join("rect")
    .attr("x",(d,i)=>x(i)-2.6).attr("width",5.2)
    .attr("y",d=>Math.min(sc(d),sc(0))).attr("height",d=>Math.max(Math.abs(sc(d)-sc(0)),0.8))
    .attr("fill","#4d9ed2").attr("stroke","#2f6f9e").attr("stroke-width",0.8);
}
histBars("macd",yM);
drawLine("macd",yM,signalPts,"#ff1a1a",1.1,d3.curveMonotoneX);
drawLine("macd",yM,macdPts,"#000",2,d3.curveMonotoneX);
histBars("hist",yH);

// ---- STO ----
drawLine("sto",yS,stoDPts,"#ff1a1a",1.1);
drawLine("sto",yS,stoKPts,"#000",2);

// ---- ADX ----
drawLine("adx",yA,minusDIPts,"#8e2048",1.1);
drawLine("adx",yA,plusDIPts,"#2a6a40",1.1);
drawLine("adx",yA,adxPts,"#000",2,d3.curveMonotoneX);

// ---- borders ----
Object.values(P).forEach(([t,b])=>{
  svg.append("rect").attr("x",L+0.5).attr("y",t+0.5).attr("width",R-L).attr("height",b-t).attr("fill","none").attr("stroke",BORDER).attr("stroke-width",1.2);
});
[P.price[1],P.adx[1]].forEach(yb=>{
  svg.append("g").selectAll("line").data(d3.range(0,203)).join("line")
    .attr("x1",d=>cr(x(d))).attr("x2",d=>cr(x(d))).attr("y1",yb+1).attr("y2",d=>yb+(d%barsPerDay===0?4:2.5)).attr("stroke","#8a8a96");
});

// ---- right axes ----
function axisLabels(sc,grid,vals,fmt){
  const g=svg.append("g");
  grid.forEach(v=>g.append("line").attr("x1",R).attr("x2",R+3).attr("y1",cr(sc(v))).attr("y2",cr(sc(v))).attr("stroke","#555"));
  vals.forEach(v=>g.append("text").attr("x",1210).attr("y",sc(v)+4).attr("font-size",11).attr("fill","#222").text(fmt(v)));
}
axisLabels(yR,rsiTicks,rsiTicks,d=>d);
axisLabels(yP,priceGrid,priceTicks,d=>d.toFixed(1));
axisLabels(yM,macdGrid,macdTicks,d=>d.toFixed(2));
axisLabels(yH,histGrid,histTicks,d=>d.toFixed(1));
axisLabels(yS,stoTicks,stoTicks,d=>d);
axisLabels(yA,adxGrid,adxTicks,d=>d);

function tags(sc,list){
  list.forEach(([v,txt,k])=>{
    const yv=sc(v), col=TAGC[k];
    const g=svg.append("g");
    let w=26;
    if(txt){
      const t=g.append("text").attr("x",1210).attr("y",yv+3.8).attr("font-size",10.5).attr("fill","#000")
        .attr("font-weight",k==="last"?"bold":null).text(txt);
      w=t.node().getComputedTextLength();
    }
    g.insert("path",txt?"text":null).attr("d",`M1204,${yv}L1208.5,${yv-5.5}L${1212+w},${yv-5.5}L${1212+w},${yv+5.5}L1208.5,${yv+5.5}Z`)
      .attr("fill","#fff").attr("stroke",col).attr("stroke-width",k==="last"?1.6:1.1);
  });
}
tags(yR,rsiTags);tags(yP,priceTags);tags(yM,macdTags);tags(yH,histTags);tags(yS,stoTags);tags(yA,adxTags);

// ---- date axes ----
[600,1195].forEach(by=>{
  svg.append("g").selectAll("text").data(dayIdx).join("text")
    .attr("x",d=>x(d*barsPerDay)).attr("y",by).attr("text-anchor","middle").attr("font-size",11).attr("fill","#111")
    .attr("font-weight",d=>dayLabels[d]==="Aug"?"bold":null).text(d=>dayLabels[d]);
});

// ---- legends ----
function lineIcon(y,color,w){svg.append("line").attr("x1",19).attr("x2",27).attr("y1",y).attr("y2",y).attr("stroke",color).attr("stroke-width",w||2.5);}
svg.append("path").attr("d","M19,39L22,32L24.5,36L26.5,33.5L29,39Z").attr("fill","#6e8a6e").attr("stroke","#333").attr("stroke-width",0.8);
svg.append("text").attr("class","lbl").attr("x",31).attr("y",39).text("RSI(14) 33.68");
svg.append("line").attr("x1",21).attr("x2",21).attr("y1",177).attr("y2",185).attr("stroke","#000");
svg.append("rect").attr("x",19.5).attr("y",178.5).attr("width",3).attr("height",5).attr("fill","#000");
svg.append("line").attr("x1",26).attr("x2",26).attr("y1",177).attr("y2",185).attr("stroke","#000");
svg.append("rect").attr("x",24.5).attr("y",179.5).attr("width",3).attr("height",4).attr("fill","#fff").attr("stroke","#000").attr("stroke-width",0.8);
svg.append("text").attr("class","lbl").attr("x",31).attr("y",185).text("$VIX (60 min) 14.53");
svg.append("path").attr("d","M19,196L22,190L24.5,193L26.5,191L29,196Z").attr("fill","#b4b4bc");
svg.append("text").attr("x",29).attr("y",195.5).attr("font-size",10).attr("fill","#a2a2aa").text("BB(20,2.0) 14.06 - 15.16 - 16.25");
lineIcon(202.5,"#d4143c");
svg.append("text").attr("x",29).attr("y",206).attr("font-size",10).attr("fill","#d4143c").text("MA(10) 14.69");
lineIcon(213.5,"#1a6a1a");
svg.append("text").attr("x",29).attr("y",217).attr("font-size",10).attr("fill","#1a6a1a").text("MA(50) 16.21");
lineIcon(224.5,"#1c2e4e");
svg.append("text").attr("x",29).attr("y",228).attr("font-size",10).attr("fill","#1c2e4e").text("MA(200) 16.47");
lineIcon(609.5,"#000",2.5);
const tm=svg.append("text").attr("class","lbl").attr("x",31).attr("y",613);
tm.append("tspan").text("MACD(12,26,9) -0.480");
tm.append("tspan").attr("fill","#ff1a1a").text(", -0.487");
tm.append("tspan").attr("fill","#3d95cc").text(", 0.007");
[[19,5],[22,8],[25,6.5]].forEach(([xx,hh])=>svg.append("rect").attr("x",xx).attr("y",758-hh).attr("width",2.2).attr("height",hh).attr("fill","#555"));
svg.append("text").attr("class","lbl").attr("x",31).attr("y",758).text("MACD(12,26,9) Hist 0.007");
lineIcon(899.5,"#000",2.5);
const ts=svg.append("text").attr("class","lbl").attr("x",31).attr("y",903);
ts.append("tspan").text("Full STO %K(14,3) %D(3) 14.08, ");
ts.append("tspan").attr("fill","#ff1a1a").text("15.53");
lineIcon(1044.5,"#000",2.5);
const ta=svg.append("text").attr("class","lbl").attr("x",31).attr("y",1048);
ta.append("tspan").text("ADX(14) 22.39 ");
ta.append("tspan").attr("fill","#1d4a55").text("+DI 18.16 ");
ta.append("tspan").attr("fill","#9a2a55").text("-DI 33.38");

// ---- header ----
svg.append("text").attr("x",16).attr("y",15).attr("font-weight","bold").attr("font-size",14).text("$VIX");
svg.append("text").attr("x",49).attr("y",14).attr("font-size",11).text("Volatility Index - New Methodology");
svg.append("text").attr("x",219).attr("y",14).attr("font-size",10).text("INDX");
svg.append("text").attr("x",16).attr("y",26.5).attr("font-size",11.5).text("13-Aug-2025 2:51pm");
svg.append("text").attr("x",1236).attr("y",13).attr("text-anchor","end").attr("font-size",11.5).attr("fill","#555").text("\u00A9StockCharts.com");
const tq=svg.append("text").attr("x",1197).attr("y",26).attr("text-anchor","end").attr("font-size",11).attr("fill","#000").style("white-space","pre");
[["Open",1],[" 14.62  ",0],["High",1],[" 14.81  ",0],["Low",1],[" 14.30  ",0],["Last",1],[" 14.53  ",0],["Chg",1],[" -0.20 (-1.36%)",0]]
  .forEach(([s,b])=>tq.append("tspan").attr("font-weight",b?"bold":null).text(s));
svg.append("path").attr("d","M1199,20L1206,20L1202.5,25Z").attr("fill","#b0102e");
</script></body></html>
